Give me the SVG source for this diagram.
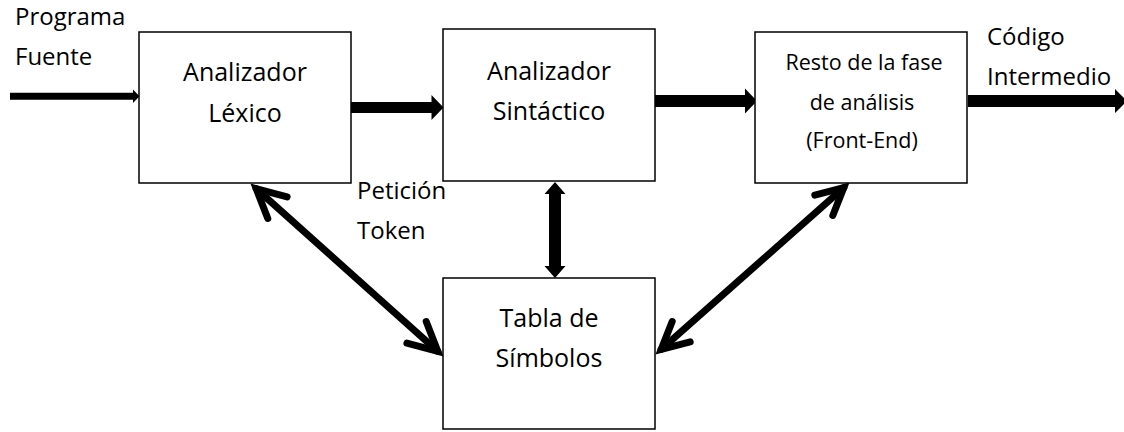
<svg xmlns="http://www.w3.org/2000/svg" width="1124" height="432" viewBox="0 0 1124 432">
<style>
  .box { fill: #ffffff; stroke: #000000; stroke-width: 1.5; }
  .t { font-family: "Open Sans", "Noto Sans", "Liberation Sans", sans-serif; font-size: 24px; fill: #000000; }
  .b { font-size: 25px; }
  .c { text-anchor: middle; }
  .s { font-size: 21.5px; }
  .fill { fill: #000000; stroke: none; }
  .dbl { fill: none; stroke: #000000; stroke-width: 7; stroke-linecap: round; stroke-linejoin: miter; stroke-miterlimit: 10; }
</style>
<rect width="1124" height="432" fill="#ffffff"/>
<g id="connectors">
  <polygon class="fill" points="10,92.8 133,92.8 133,89.5 139.5,96.3 133,103 133,99.8 10,99.8"/>
  <polygon class="fill" points="351,102 431.5,102 431.5,95 443.5,107.5 431.5,120 431.5,113 351,113"/>
  <polygon class="fill" points="652,95 745,95 745,88.5 757,101 745,113.5 745,107 652,107"/>
  <polygon class="fill" points="968,95 1115,95 1115,89 1127,101 1115,113 1115,107 968,107"/>
  <polygon class="fill" points="555,182 565.5,194 561,194 561,266 565.5,266 555,278 544.5,266 549,266 549,194 544.5,194"/>
  <path class="dbl" d="M256.2,188.7 L437.8,351.3"/>
  <path class="dbl" d="M267.8,218.5 L256.2,188.7 L287.1,196.9"/>
  <path class="dbl" d="M426.2,321.5 L437.8,351.3 L406.9,343.1"/>
  <path class="dbl" d="M661.2,349.4 L843.8,187.6"/>
  <path class="dbl" d="M690.2,341.9 L661.2,349.4 L672.2,321.5"/>
  <path class="dbl" d="M814.8,195.1 L843.8,187.6 L832.8,215.5"/>
</g>
<g id="lexico">
  <rect class="box" x="139" y="32" width="212" height="151"/>
  <text class="t b c" x="245" y="81">Analizador</text>
  <text class="t b c" x="245" y="122">Léxico</text>
</g>
<g id="sintactico">
  <rect class="box" x="443" y="29" width="212" height="152"/>
  <text class="t b c" x="549" y="79.5">Analizador</text>
  <text class="t b c" x="549" y="119.5">Sintáctico</text>
</g>
<g id="resto">
  <rect class="box" x="755" y="32" width="212" height="151"/>
  <text class="t c s" x="864" y="69.5">Resto de la fase</text>
  <text class="t c s" x="862" y="110">de análisis</text>
  <text class="t c s" x="862" y="148">(Front-End)</text>
</g>
<g id="tabla">
  <rect class="box" x="443" y="278" width="212" height="151"/>
  <text class="t b c" x="549" y="327">Tabla de</text>
  <text class="t b c" x="549" y="367">Símbolos</text>
</g>
<g id="labels">
  <text class="t" x="15" y="24.5">Programa</text>
  <text class="t" x="15" y="64.5">Fuente</text>
  <text class="t" x="987" y="45">Código</text>
  <text class="t" x="987" y="85">Intermedio</text>
  <text class="t" x="357" y="198.5">Petición</text>
  <text class="t" x="357" y="239">Token</text>
</g>
</svg>
